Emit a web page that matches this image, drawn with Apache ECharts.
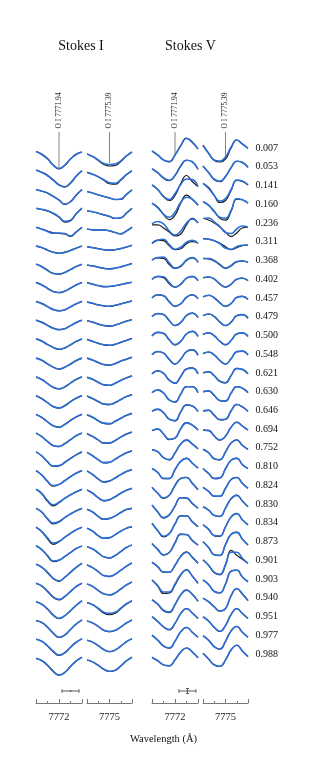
<!DOCTYPE html>
<html><head><meta charset="utf-8">
<script src="https://cdn.jsdelivr.net/npm/echarts@6/dist/echarts.min.js"></script>
<style>html,body{margin:0;padding:0;background:#fff}#c{width:316px;height:776px}</style>
</head><body><div id="c"></div>
<script>
// ---------------- DATA ----------------
const phases = ['0.007','0.053','0.141','0.160','0.236','0.311','0.368','0.402','0.457','0.479','0.500','0.548','0.621','0.630','0.646','0.694','0.752','0.810','0.824','0.830','0.834','0.873','0.901','0.903','0.940','0.951','0.977','0.988'];
// wavelength offset from line centre (Å) of each sample
const dl = [-0.5,-0.375,-0.25,-0.125,0,0.125,0.25,0.375,0.5];
const lineNames = ['O I 7771.94','O I 7775.39'];
const tickNames = ['7772','7775'];

// Stokes I (I/Ic), observed (black) and model (blue), O I 7772
const iObs7772 = [
[.985,.96,.915,.85,.81,.845,.91,.96,.98],
[.987,.965,.935,.89,.84,.817,.855,.925,.98],
[.98,.962,.943,.91,.875,.83,.86,.925,.98],
[.977,.967,.952,.925,.89,.84,.855,.925,.98],
[.977,.96,.94,.92,.915,.91,.885,.93,.977],
[.975,.96,.935,.915,.905,.915,.935,.957,.977],
[.984,.96,.925,.89,.882,.90,.93,.96,.982],
[.988,.965,.93,.897,.885,.90,.93,.962,.988],
[.985,.965,.935,.905,.89,.90,.93,.96,.985],
[.985,.965,.935,.905,.89,.90,.93,.96,.985],
[.985,.965,.93,.90,.88,.895,.925,.96,.985],
[.98,.96,.925,.89,.87,.89,.92,.955,.98],
[.98,.955,.915,.875,.86,.88,.92,.955,.98],
[.98,.95,.91,.87,.855,.88,.92,.955,.98],
[.98,.95,.905,.865,.85,.88,.92,.955,.98],
[.98,.945,.895,.855,.845,.875,.915,.955,.98],
[.98,.94,.88,.835,.84,.875,.915,.95,.98],
[.98,.935,.87,.825,.84,.88,.92,.955,.98],
[.98,.935,.86,.815,.845,.89,.925,.955,.98],
[.977,.94,.87,.822,.84,.885,.92,.952,.977],
[.975,.93,.86,.805,.83,.875,.915,.95,.975],
[.978,.94,.875,.82,.832,.87,.91,.95,.975],
[.98,.95,.895,.835,.81,.85,.90,.95,.99],
[.977,.95,.895,.835,.81,.845,.895,.945,.977],
[.98,.955,.905,.845,.81,.84,.89,.945,.99],
[.978,.96,.912,.852,.81,.835,.89,.945,.985],
[.98,.96,.912,.855,.818,.845,.90,.95,.985],
[.975,.952,.905,.845,.808,.835,.895,.95,.987]
];
const iMod7772 = [
[.985,.955,.91,.85,.815,.85,.91,.955,.98],
[.987,.962,.93,.885,.837,.82,.86,.928,.98],
[.98,.965,.945,.912,.875,.835,.855,.922,.98],
[.98,.97,.955,.93,.895,.85,.86,.925,.98],
[.977,.958,.935,.917,.92,.915,.89,.93,.977],
[.978,.962,.937,.915,.905,.913,.932,.955,.977],
[.982,.957,.92,.89,.885,.90,.928,.958,.982],
[.988,.962,.927,.895,.887,.90,.932,.964,.988],
[.985,.962,.932,.903,.892,.902,.932,.962,.985],
[.985,.962,.932,.903,.89,.90,.93,.962,.985],
[.985,.962,.928,.90,.882,.895,.928,.96,.985],
[.98,.958,.922,.89,.872,.888,.922,.957,.98],
[.98,.953,.913,.877,.862,.88,.918,.955,.98],
[.98,.95,.91,.872,.857,.878,.918,.955,.98],
[.98,.948,.905,.867,.852,.878,.918,.955,.98],
[.98,.945,.897,.857,.847,.873,.913,.953,.98],
[.98,.94,.882,.838,.842,.873,.913,.95,.98],
[.98,.937,.874,.83,.842,.878,.918,.953,.98],
[.98,.94,.87,.825,.85,.89,.925,.955,.98],
[.977,.94,.875,.83,.845,.885,.92,.952,.977],
[.975,.935,.87,.817,.835,.875,.915,.95,.975],
[.978,.94,.88,.825,.835,.87,.91,.95,.975],
[.98,.95,.90,.84,.815,.85,.90,.95,.99],
[.977,.95,.90,.84,.817,.845,.895,.945,.977],
[.98,.955,.91,.85,.815,.84,.89,.945,.99],
[.978,.96,.915,.855,.813,.835,.89,.945,.985],
[.98,.96,.915,.86,.822,.845,.90,.95,.985],
[.977,.955,.91,.85,.81,.835,.895,.95,.987]
];
// Stokes I, O I 7775
const iObs7775 = [
[.96,.935,.895,.855,.84,.845,.885,.94,.98],
[.964,.945,.92,.885,.85,.845,.885,.94,.98],
[.96,.945,.925,.91,.895,.88,.88,.93,.975],
[.955,.945,.93,.913,.897,.877,.882,.93,.98],
[.96,.95,.947,.95,.94,.925,.91,.94,.977],
[.97,.96,.95,.94,.935,.94,.95,.965,.985],
[.974,.965,.952,.94,.935,.942,.955,.972,.99],
[.985,.97,.955,.945,.947,.955,.965,.978,.989],
[.98,.965,.95,.94,.935,.945,.96,.975,.99],
[.98,.965,.945,.93,.925,.935,.955,.975,.99],
[.98,.96,.94,.925,.92,.93,.95,.97,.99],
[.98,.96,.935,.915,.91,.925,.95,.97,.99],
[.975,.955,.925,.90,.895,.915,.945,.97,.99],
[.975,.95,.92,.895,.89,.91,.94,.97,.99],
[.975,.95,.915,.89,.885,.91,.94,.97,.99],
[.975,.945,.91,.88,.88,.905,.94,.97,.99],
[.975,.94,.90,.87,.875,.905,.94,.97,.99],
[.975,.94,.895,.865,.875,.905,.94,.97,.99],
[.973,.94,.895,.865,.875,.905,.94,.97,.99],
[.967,.94,.895,.867,.875,.90,.935,.965,.977],
[.965,.935,.89,.865,.87,.90,.935,.965,.98],
[.968,.945,.905,.865,.855,.88,.92,.96,.985],
[.973,.945,.905,.865,.857,.88,.92,.96,.993],
[.97,.945,.905,.87,.86,.88,.92,.96,.99],
[.97,.95,.91,.865,.85,.865,.91,.955,.99],
[.975,.955,.92,.88,.868,.88,.915,.955,.985],
[.97,.95,.915,.875,.855,.87,.91,.955,.985],
[.96,.94,.905,.865,.845,.855,.90,.95,.987]
];
const iMod7775 = [
[.96,.935,.90,.865,.855,.86,.89,.94,.98],
[.964,.945,.92,.89,.86,.855,.89,.94,.98],
[.96,.945,.927,.91,.895,.88,.885,.93,.975],
[.955,.945,.93,.915,.90,.88,.885,.93,.98],
[.96,.952,.95,.948,.942,.925,.912,.94,.977],
[.97,.96,.95,.94,.937,.94,.952,.966,.985],
[.974,.965,.953,.942,.937,.943,.956,.972,.99],
[.985,.97,.956,.946,.948,.955,.966,.978,.989],
[.98,.966,.951,.941,.937,.946,.96,.975,.99],
[.98,.966,.946,.932,.927,.936,.955,.975,.99],
[.98,.961,.941,.927,.922,.931,.951,.97,.99],
[.98,.961,.937,.917,.912,.926,.95,.97,.99],
[.975,.956,.927,.902,.897,.916,.945,.97,.99],
[.975,.951,.922,.897,.892,.911,.941,.97,.99],
[.975,.951,.917,.892,.887,.911,.941,.97,.99],
[.975,.946,.912,.882,.882,.906,.94,.97,.99],
[.975,.941,.902,.872,.877,.906,.94,.97,.99],
[.975,.941,.897,.867,.877,.906,.94,.97,.99],
[.973,.941,.897,.867,.877,.906,.94,.97,.99],
[.967,.941,.897,.869,.877,.902,.936,.965,.977],
[.965,.937,.892,.867,.872,.902,.936,.965,.98],
[.968,.946,.907,.867,.857,.881,.92,.96,.985],
[.973,.946,.907,.867,.859,.881,.92,.96,.993],
[.97,.946,.907,.872,.862,.881,.92,.96,.99],
[.97,.95,.915,.875,.865,.875,.915,.96,.99],
[.975,.955,.922,.882,.87,.882,.916,.955,.985],
[.97,.951,.917,.877,.857,.872,.911,.955,.985],
[.96,.941,.907,.867,.848,.857,.901,.95,.987]
];
// Stokes V (V/Ic, %), O I 7772
const vObs7772 = [
[-0.1,-0.5,-1.0,-1.2,-0.5,0.4,1.2,0.8,0.1],
[0,-0.4,-0.95,-1.2,-0.7,0.3,0.85,0.7,-0.05],
[0.25,-0.2,-0.9,-1.3,-0.8,0.4,1.2,0.6,0.1],
[0.3,-0.1,-0.8,-1.35,-0.9,0.3,1.1,0.7,0.1],
[0,0,-0.3,-0.7,-1.1,-0.9,0,0.65,0.2],
[0,0.35,0.3,-0.2,-0.6,-0.5,0,0.2,0.05],
[0.24,0.45,0.4,-0.2,-0.6,-0.4,0.2,0.45,0],
[0.2,0.45,0.35,-0.25,-0.6,-0.3,0.3,0.45,0.05],
[0.2,0.5,0.4,-0.2,-0.65,-0.4,0.25,0.5,0.1],
[0.2,0.5,0.4,-0.2,-0.7,-0.4,0.3,0.55,0.1],
[0.15,0.5,0.4,-0.25,-0.75,-0.4,0.35,0.6,0.1],
[0.15,0.45,0.3,-0.35,-0.8,-0.3,0.45,0.65,0.1],
[0.1,0.4,0.15,-0.55,-0.85,-0.15,0.6,0.7,0.1],
[0.1,0.35,0.05,-0.65,-0.85,-0.05,0.7,0.7,0.1],
[0.1,0.3,-0.05,-0.7,-0.85,0.05,0.75,0.65,0.1],
[0.05,0.2,-0.3,-0.85,-0.7,0.25,0.85,0.6,0.1],
[0,-0.2,-0.8,-1.0,-0.3,0.6,1.0,0.6,0.1],
[0,-0.4,-1.0,-1.0,-0.1,0.75,1.05,0.55,0.05],
[0,-0.6,-1.1,-0.8,0.2,0.9,1.0,0.4,-0.25],
[0.1,-0.6,-1.2,-0.9,0,0.85,0.8,0.25,-0.23],
[0.15,-0.6,-1.2,-0.9,0.1,0.9,0.9,0.3,-0.2],
[0,-0.6,-1.15,-0.9,0.1,0.95,0.9,0.3,-0.15],
[0,-0.45,-1.0,-1.0,-0.3,0.6,1.05,0.5,-0.1],
[0.1,-0.5,-1.25,-1.2,-0.4,0.6,1.15,0.5,-0.23],
[0,-0.45,-1.1,-1.3,-0.5,0.5,0.98,0.55,-0.15],
[0.18,-0.3,-0.85,-1.15,-0.5,0.5,1.0,0.55,0],
[0.2,-0.3,-0.9,-1.1,-0.4,0.55,1.0,0.5,0],
[-0.15,-0.5,-0.9,-1.0,-0.4,0.4,0.8,0.4,-0.2]
];
const vMod7772 = [
[-0.1,-0.5,-1.0,-1.15,-0.5,0.45,1.15,0.75,0.1],
[0,-0.4,-0.9,-1.15,-0.65,0.25,0.85,0.7,-0.05],
[0.25,-0.2,-0.9,-1.2,-0.6,0.3,0.85,0.8,0.1],
[0.3,-0.15,-0.8,-1.1,-0.6,0.4,0.9,0.7,0.1],
[0.1,0.35,0.1,-0.6,-1.0,-0.6,0.2,0.6,0.2],
[0.05,0.35,0.45,-0.1,-0.55,-0.35,0.15,0.35,0.05],
[0.24,0.5,0.55,-0.05,-0.55,-0.35,0.25,0.5,0.05],
[0.2,0.5,0.45,-0.15,-0.58,-0.3,0.3,0.48,0.05],
[0.2,0.52,0.45,-0.15,-0.62,-0.38,0.28,0.52,0.1],
[0.2,0.52,0.42,-0.18,-0.68,-0.38,0.32,0.55,0.1],
[0.15,0.5,0.42,-0.22,-0.72,-0.38,0.36,0.6,0.1],
[0.15,0.47,0.32,-0.32,-0.78,-0.3,0.45,0.63,0.1],
[0.1,0.42,0.18,-0.52,-0.82,-0.15,0.6,0.68,0.1],
[0.1,0.37,0.08,-0.62,-0.83,-0.05,0.68,0.68,0.1],
[0.1,0.32,-0.02,-0.68,-0.83,0.05,0.73,0.63,0.1],
[0.05,0.22,-0.27,-0.82,-0.7,0.23,0.82,0.6,0.1],
[0,-0.18,-0.78,-0.98,-0.32,0.58,0.97,0.58,0.1],
[0,-0.38,-0.98,-0.98,-0.12,0.72,1.02,0.55,0.05],
[0,-0.58,-1.07,-0.8,0.15,0.87,0.98,0.42,-0.22],
[0.1,-0.57,-1.15,-0.88,0,0.83,0.82,0.28,-0.2],
[0.15,-0.57,-1.15,-0.88,0.08,0.88,0.9,0.32,-0.18],
[0,-0.58,-1.12,-0.9,0.05,0.92,0.9,0.32,-0.15],
[0,-0.43,-0.97,-0.98,-0.3,0.58,1.0,0.52,-0.1],
[0.1,-0.45,-1.1,-1.1,-0.3,0.65,1.1,0.5,-0.2],
[0,-0.43,-1.05,-1.22,-0.48,0.5,0.95,0.55,-0.15],
[0.18,-0.28,-0.82,-1.1,-0.48,0.5,0.98,0.55,0],
[0.2,-0.28,-0.87,-1.07,-0.4,0.55,0.98,0.5,0],
[-0.12,-0.47,-0.88,-0.97,-0.38,0.4,0.8,0.42,-0.18]
];
// Stokes V (V/Ic, %), O I 7775
const vObs7775 = [
[0.5,-0.3,-1.05,-1.2,-0.9,0.2,1.0,0.6,0.17],
[0.27,-0.4,-1.1,-1.3,-0.8,0.1,0.75,0.65,0.14],
[0.4,0,-0.8,-1.5,-1.3,-0.3,0.7,0.6,0.25],
[0.45,0.1,-0.5,-1.2,-1.4,-0.5,0.7,0.65,0.3],
[0.67,0.5,0.2,-0.2,-0.7,-1.15,-0.8,-0.3,-0.23],
[0.54,0.45,0.3,0.05,-0.3,-0.6,-0.4,-0.2,-0.13],
[0.4,0.35,0.15,-0.25,-0.6,-0.35,0.05,0.15,0],
[0.35,0.4,0.2,-0.3,-0.6,-0.3,0.2,0.3,0.05],
[0.3,0.45,0.2,-0.3,-0.65,-0.35,0.25,0.35,0.05],
[0.3,0.45,0.2,-0.35,-0.7,-0.35,0.3,0.4,0.05],
[0.3,0.45,0.15,-0.4,-0.75,-0.3,0.35,0.45,0.1],
[0.25,0.4,0.1,-0.45,-0.8,-0.25,0.45,0.5,0.1],
[0.2,0.3,-0.1,-0.65,-0.8,-0.05,0.65,0.55,0.1],
[0.2,0.25,-0.2,-0.7,-0.75,0.05,0.7,0.55,0.1],
[0.15,0.2,-0.3,-0.75,-0.7,0.15,0.8,0.55,0.1],
[0.1,0.05,-0.5,-0.9,-0.5,0.4,0.9,0.5,0.1],
[0.05,-0.3,-0.9,-1.0,-0.2,0.7,1.0,0.45,0.05],
[0,-0.5,-1.0,-0.95,0,0.85,1.05,0.4,0],
[0,-0.4,-0.9,-0.9,-0.1,0.8,1.0,0.4,-0.1],
[-0.07,-0.4,-0.95,-1.05,-0.2,0.75,1.1,0.5,-0.07],
[0,-0.45,-1.1,-1.15,-0.2,0.8,1.15,0.5,0],
[0.18,-0.4,-1.15,-1.2,-0.1,0.95,1.15,0.45,-0.15],
[0.23,-0.3,-1.05,-1.25,-0.3,1.2,0.7,0.3,-0.1],
[0.1,-0.35,-1.05,-1.2,-0.3,1.0,1.1,0.4,-0.07],
[0.15,-0.2,-0.7,-1.15,-0.9,0.4,1.1,0.6,-0.09],
[0.18,-0.25,-0.9,-1.3,-0.7,0.4,1.0,0.5,0],
[0.15,-0.3,-0.95,-1.2,-0.4,0.65,1.1,0.5,0],
[0.27,-0.3,-0.9,-1.05,-0.4,0.6,1.1,0.5,-0.07]
];
const vMod7775 = [
[0.45,-0.35,-1.0,-1.1,-0.7,0.3,1.0,0.6,0.17],
[0.27,-0.38,-1.05,-1.25,-0.75,0.12,0.75,0.62,0.14],
[0.4,-0.1,-0.8,-1.35,-1.1,-0.2,0.75,0.65,0.25],
[0.45,0.1,-0.55,-1.1,-1.2,-0.4,0.75,0.65,0.3],
[0.65,0.7,0.3,-0.15,-0.75,-0.85,-0.4,-0.1,-0.23],
[0.5,0.45,0.3,0,-0.45,-0.55,-0.3,-0.15,-0.13],
[0.4,0.4,0.2,-0.2,-0.55,-0.3,0.1,0.15,0],
[0.35,0.42,0.22,-0.27,-0.58,-0.3,0.2,0.3,0.05],
[0.3,0.47,0.22,-0.28,-0.63,-0.35,0.25,0.35,0.05],
[0.3,0.47,0.22,-0.33,-0.68,-0.35,0.3,0.4,0.05],
[0.3,0.47,0.17,-0.38,-0.72,-0.3,0.35,0.45,0.1],
[0.25,0.42,0.12,-0.43,-0.78,-0.25,0.45,0.5,0.1],
[0.2,0.32,-0.08,-0.62,-0.78,-0.05,0.63,0.55,0.1],
[0.2,0.27,-0.18,-0.68,-0.73,0.05,0.68,0.55,0.1],
[0.15,0.22,-0.28,-0.72,-0.68,0.15,0.78,0.55,0.1],
[0.1,0.07,-0.48,-0.88,-0.5,0.38,0.88,0.5,0.1],
[0.05,-0.28,-0.88,-0.98,-0.22,0.68,0.98,0.45,0.05],
[0,-0.48,-0.98,-0.93,-0.02,0.83,1.02,0.4,0],
[0,-0.4,-0.88,-0.88,-0.1,0.78,0.98,0.4,-0.1],
[-0.07,-0.4,-0.92,-1.02,-0.2,0.73,1.07,0.5,-0.07],
[0,-0.45,-1.07,-1.12,-0.2,0.78,1.12,0.5,0],
[0.18,-0.4,-1.12,-1.17,-0.12,0.92,1.12,0.45,-0.15],
[0.23,-0.3,-1.0,-1.2,-0.2,1.0,1.0,0.4,-0.1],
[0.1,-0.35,-1.02,-1.17,-0.3,0.97,1.07,0.4,-0.07],
[0.15,-0.2,-0.7,-1.12,-0.88,0.42,1.12,0.58,-0.09],
[0.18,-0.25,-0.88,-1.27,-0.7,0.4,0.98,0.5,0],
[0.15,-0.3,-0.93,-1.17,-0.4,0.63,1.07,0.5,0],
[0.27,-0.3,-0.88,-1.02,-0.4,0.6,1.07,0.5,-0.07]
];
// error bars: [centre offset (Å), half width (Å), half height (I/Ic or V %)]
const errI = [0.25, 0.185, 0.004];
const errV = [0.27, 0.185, 0.25];

// ---------------- LAYOUT / STYLE ----------------
const FONT = '"Liberation Serif","Times New Roman",serif';
const ROW = 18.74;       // px between successive phases
const I_PX = 100;        // px per unit I/Ic
const V_PX = 10;         // px per 1 % V/Ic
const BASE0 = 150, TOP = 80, AXIS_Y = 703;
const ERR_Y = 541;       // px below first baseline
const BLACK = '#1a1a1a', BLUE = '#2d6fd8', AX = '#555';
const gridBoxes = [{left:36,width:46},{left:87,width:45},{left:152,width:46},{left:203,width:45}];

const chart = echarts.init(document.getElementById('c'), null, {renderer:'canvas'});

const grid = gridBoxes.map(b => ({left:b.left, width:b.width, top:TOP, height:AXIS_Y-TOP, outerBoundsMode:'none'}));
const xAxis = gridBoxes.map((b,g) => ({
  gridIndex:g, type:'value', position:'bottom', min:-0.5, max:0.5, interval:0.5,
  axisLine:{show:true, onZero:false, lineStyle:{color:AX, width:0.8}},
  axisTick:{show:true, inside:true, length:4, lineStyle:{color:AX, width:0.8}},
  minorTick:{show:true, splitNumber:2, length:2, lineStyle:{color:AX, width:0.8}},
  splitLine:{show:false}, minorSplitLine:{show:false},
  axisLabel:{margin:9, fontFamily:FONT, fontSize:10.5, color:'#222',
    showMinLabel:true, showMaxLabel:true,
    formatter: v => (Math.abs(v) < 1e-9 ? tickNames[g % 2] : '')}
}));
const yAxis = gridBoxes.map((b,g) => ({gridIndex:g, type:'value', inverse:true, min:TOP-BASE0, max:AXIS_Y-BASE0, show:false}));

function prof(rows, g, isV, color, width, z) {
  return rows.map((vals, r) => ({
    type:'line', xAxisIndex:g, yAxisIndex:g, smooth:0.5, showSymbol:false, silent:true,
    animation:false, z, lineStyle:{color, width},
    data: dl.map((x,i) => [x, r*ROW + (isV ? -vals[i]*V_PX : (1 - vals[i])*I_PX)])
  }));
}

const series = [].concat(
  prof(iObs7772,0,false,BLACK,1.2,2), prof(iMod7772,0,false,BLUE,1.6,3),
  prof(iObs7775,1,false,BLACK,1.2,2), prof(iMod7775,1,false,BLUE,1.6,3),
  prof(vObs7772,2,true,BLACK,1.2,2),  prof(vMod7772,2,true,BLUE,1.6,3),
  prof(vObs7775,3,true,BLACK,1.2,2),  prof(vMod7775,3,true,BLUE,1.6,3)
);

// line identification markers
const markEnds = [18, 13, 5, 7];
markEnds.forEach((end, g) => {
  series.push({
    type:'custom', xAxisIndex:g, yAxisIndex:g, silent:true, animation:false, z:5,
    data:[[0, -18, end]],
    renderItem:(p, api) => {
      const a = api.coord([api.value(0), api.value(1)]);
      const b = api.coord([api.value(0), api.value(2)]);
      return {type:'group', children:[
        {type:'line', shape:{x1:a[0],y1:a[1],x2:b[0],y2:b[1]}, style:{stroke:'#666', lineWidth:0.8}},
        {type:'text', x:a[0], y:a[1]-3.5, rotation:Math.PI/2,
          style:{text:lineNames[g % 2], font:'7.5px ' + FONT, fill:'#222', align:'left', verticalAlign:'middle'}}
      ]};
    }
  });
});

// phase labels
series.push({
  type:'custom', xAxisIndex:3, yAxisIndex:3, silent:true, animation:false, z:5,
  data: phases.map((p, r) => [0.5, r*ROW - 2]),
  renderItem:(p, api) => {
    const a = api.coord([api.value(0), api.value(1)]);
    return {type:'text', x:a[0] + 7.5, y:a[1],
      style:{text:phases[p.dataIndex], font:'10px ' + FONT, fill:'#111', align:'left', verticalAlign:'middle'}};
  }
});

// error bars
[[0, errI, false], [2, errV, true]].forEach(([g, e, isV]) => {
  series.push({
    type:'custom', xAxisIndex:g, yAxisIndex:g, silent:true, animation:false, z:5,
    data:[[e[0], ERR_Y, e[1], e[2] * (isV ? V_PX : I_PX)]],
    renderItem:(p, api) => {
      const c = api.coord([api.value(0), api.value(1)]);
      const l = api.coord([api.value(0) - api.value(2), api.value(1)]);
      const r = api.coord([api.value(0) + api.value(2), api.value(1)]);
      const hh = Math.max(api.value(3), 0.6);
      const st = {stroke:'#333', lineWidth:0.8};
      return {type:'group', children:[
        {type:'line', shape:{x1:l[0],y1:c[1],x2:r[0],y2:c[1]}, style:st},
        {type:'line', shape:{x1:l[0],y1:c[1]-1.8,x2:l[0],y2:c[1]+1.8}, style:st},
        {type:'line', shape:{x1:r[0],y1:c[1]-1.8,x2:r[0],y2:c[1]+1.8}, style:st},
        {type:'line', shape:{x1:c[0],y1:c[1]-hh,x2:c[0],y2:c[1]+hh}, style:{stroke:'#333', lineWidth:isV?0.8:1.6}},
        {type:'line', shape:{x1:c[0]-1.5,y1:c[1]-hh,x2:c[0]+1.5,y2:c[1]-hh}, style:{stroke:'#333', lineWidth:isV?0.8:0}},
        {type:'line', shape:{x1:c[0]-1.5,y1:c[1]+hh,x2:c[0]+1.5,y2:c[1]+hh}, style:{stroke:'#333', lineWidth:isV?0.8:0}}
      ]};
    }
  });
});

chart.setOption({
  backgroundColor:'#fff',
  animation:false,
  grid, xAxis, yAxis, series,
  graphic:[
    {type:'text', x:81, y:46, style:{text:'Stokes I', font:'14px ' + FONT, fill:'#111', align:'center', verticalAlign:'middle'}},
    {type:'text', x:190.5, y:46, style:{text:'Stokes V', font:'14px ' + FONT, fill:'#111', align:'center', verticalAlign:'middle'}},
    {type:'text', x:163.5, y:739, style:{text:'Wavelength (Å)', font:'10.5px ' + FONT, fill:'#111', align:'center', verticalAlign:'middle'}}
  ]
});
</script></body></html>
